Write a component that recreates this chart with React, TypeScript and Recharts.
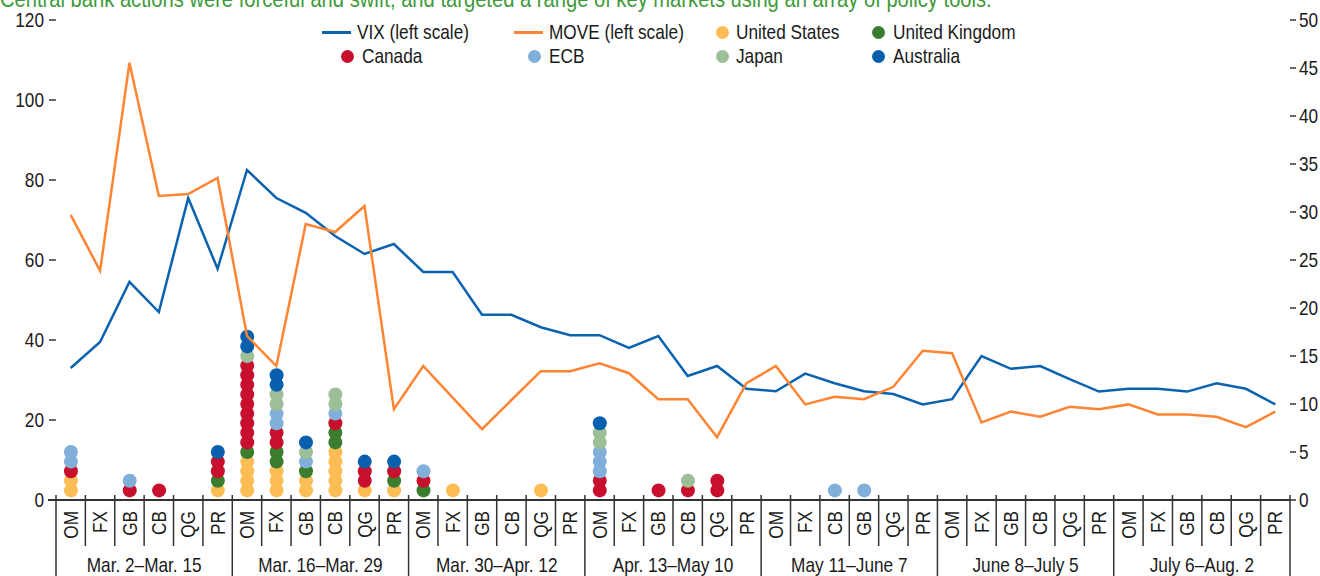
import React from 'react'
import { ComposedChart, Line, Bar, XAxis, YAxis } from 'recharts'

// ---- data ----
const PERIODS = [
  'Mar. 2–Mar. 15', 'Mar. 16–Mar. 29', 'Mar. 30–Apr. 12', 'Apr. 13–May 10',
  'May 11–June 7', 'June 8–July 5', 'July 6–Aug. 2',
]
const TOOLS = ['OM', 'FX', 'GB', 'CB', 'QG', 'PR']
const TOOLS_MAY = ['OM', 'FX', 'CB', 'GB', 'QG', 'PR']

const VIX = [
  33, 39.5, 54.5, 47, 75.5, 57.8,
  82.5, 75.5, 71.8, 66, 61.5, 64,
  57, 57, 46.3, 46.3, 43.2, 41.2,
  41.2, 38, 41, 31, 33.5, 27.8,
  27.2, 31.6, 29.2, 27.2, 26.5, 23.9,
  25.2, 36, 32.8, 33.5, 30.2, 27.1,
  27.8, 27.8, 27.1, 29.2, 27.8, 23.9,
]
const MOVE = [
  71.3, 57.3, 109.3, 76, 76.5, 80.5,
  41, 33.5, 69, 67, 73.5, 22.7,
  33.5, 25.6, 17.7, 25, 32.2, 32.2,
  34.2, 31.7, 25.2, 25.2, 15.7, 29.2,
  33.5, 23.9, 25.8, 25.2, 28.3, 37.3,
  36.7, 19.4, 22.1, 20.8, 23.3, 22.7,
  23.9, 21.4, 21.4, 20.8, 18.2, 22.1,
]

// number of actions per category, by central bank (right scale)
const US = [
  2, 0, 0, 0, 0, 1, 4, 3, 2, 5, 1, 1, 0, 1, 0, 0, 1, 0, 0, 0, 0,
  0, 0, 0, 0, 0, 0, 0, 0, 0, 0, 0, 0, 0, 0, 0, 0, 0, 0, 0, 0, 0,
]
const UK = [
  0, 0, 0, 0, 0, 1, 1, 2, 1, 2, 0, 1, 1, 0, 0, 0, 0, 0, 0, 0, 0,
  0, 0, 0, 0, 0, 0, 0, 0, 0, 0, 0, 0, 0, 0, 0, 0, 0, 0, 0, 0, 0,
]
const CANADA = [
  1, 0, 1, 1, 0, 2, 9, 2, 0, 1, 2, 1, 1, 0, 0, 0, 0, 0, 2, 0, 1,
  1, 2, 0, 0, 0, 0, 0, 0, 0, 0, 0, 0, 0, 0, 0, 0, 0, 0, 0, 0, 0,
]
const ECB = [
  2, 0, 1, 0, 0, 0, 0, 2, 1, 1, 0, 0, 1, 0, 0, 0, 0, 0, 3, 0, 0,
  0, 0, 0, 0, 0, 1, 1, 0, 0, 0, 0, 0, 0, 0, 0, 0, 0, 0, 0, 0, 0,
]
const JAPAN = [
  0, 0, 0, 0, 0, 0, 1, 2, 1, 2, 0, 0, 0, 0, 0, 0, 0, 0, 2, 0, 0,
  1, 0, 0, 0, 0, 0, 0, 0, 0, 0, 0, 0, 0, 0, 0, 0, 0, 0, 0, 0, 0,
]
const AUSTRALIA = [
  0, 0, 0, 0, 0, 1, 2, 2, 1, 0, 1, 1, 0, 0, 0, 0, 0, 0, 1, 0, 0,
  0, 0, 0, 0, 0, 0, 0, 0, 0, 0, 0, 0, 0, 0, 0, 0, 0, 0, 0, 0, 0,
]

const LEFT_TICKS = [0, 20, 40, 60, 80, 100, 120]
const RIGHT_TICKS = [0, 5, 10, 15, 20, 25, 30, 35, 40, 45, 50]

// ---- styling ----
// no narrow font installed, so Liberation Sans is squeezed to look like Arial Narrow
const FONT = "'Liberation Sans', Arial, sans-serif"
const SQUEEZE = 0.82
const FS = 21
const INK = '#1a1a1a'
const AXIS = '#333'
const BANKS = [
  { key: 'us', name: 'United States', color: '#FDBD55', values: US },
  { key: 'uk', name: 'United Kingdom', color: '#3B7D2E', values: UK },
  { key: 'ca', name: 'Canada', color: '#C8102E', values: CANADA },
  { key: 'ecb', name: 'ECB', color: '#80AFDA', values: ECB },
  { key: 'jp', name: 'Japan', color: '#9DBF98', values: JAPAN },
  { key: 'au', name: 'Australia', color: '#075FAE', values: AUSTRALIA },
]

const W = 1320
const H = 576
const LEFT_W = 56
const RIGHT_W = 30
const N = PERIODS.length * TOOLS.length
const BW = (W - LEFT_W - RIGHT_W) / N

const labels = PERIODS.flatMap((p, g) => (g === 4 ? TOOLS_MAY : TOOLS))

const rows = labels.map((label, i) => {
  const r: any = { idx: i, label, vix: VIX[i], move: MOVE[i] }
  BANKS.forEach((b) => { r[b.key] = b.values[i] })
  return r
})

function NarrowText({ x, y, rotate = 0, anchor = 'start', baseline = 'central', children }: any) {
  return (
    <text
      transform={`translate(${x},${y}) rotate(${rotate}) scale(${SQUEEZE},1)`}
      textAnchor={anchor}
      dominantBaseline={baseline}
      fontSize={FS}
      fontFamily={FONT}
      fill={INK}
    >
      {children}
    </text>
  )
}

function DotStack({ x, y, width, height, count, color }: any) {
  if (!count || !height) return null
  const h = Math.abs(height)
  const unit = h / count
  const cx = x + width / 2
  const bottom = y + h
  return (
    <g>
      {Array.from({ length: count }, (_, j) => (
        <circle key={j} cx={cx} cy={bottom - (j + 1) * unit} r={7} fill={color} />
      ))}
    </g>
  )
}

function ToolTick({ x, y, payload }: any) {
  const i = Number(payload.value)
  const x0 = x - BW / 2
  const first = i % 6 === 0
  return (
    <g>
      {i === 0 && (
        <line x1={x0 - 8} x2={x0 + N * BW} y1={y} y2={y} stroke={AXIS} strokeWidth={2} />
      )}
      <line x1={x0} x2={x0} y1={y - 5} y2={first ? H : y + 46} stroke={AXIS} strokeWidth={1.5} />
      {i === N - 1 && (
        <line x1={x0 + BW} x2={x0 + BW} y1={y - 5} y2={H} stroke={AXIS} strokeWidth={1.5} />
      )}
      <NarrowText x={x} y={y + 11} rotate={-90} anchor="end">{labels[i]}</NarrowText>
      {first && (
        <NarrowText x={x0 + 3 * BW} y={y + 72} anchor="middle" baseline="auto">
          {PERIODS[i / 6]}
        </NarrowText>
      )}
    </g>
  )
}

function LeftTick({ x, y, payload }: any) {
  return <NarrowText x={x} y={y} anchor="end">{payload.value}</NarrowText>
}

function RightTick({ x, y, payload }: any) {
  return <NarrowText x={x} y={y} anchor="start">{payload.value}</NarrowText>
}

const legendText: React.CSSProperties = {
  position: 'absolute', fontSize: FS, color: INK, lineHeight: '24px', whiteSpace: 'nowrap',
  transform: `scaleX(${SQUEEZE})`, transformOrigin: '0 50%',
}

function LegendLine({ left, top, color, text, textLeft }: any) {
  return (
    <>
      <div style={{ position: 'absolute', left, top: top - 1.5, width: 29, height: 3, background: color }} />
      <div style={{ ...legendText, left: textLeft, top: top - 12 }}>{text}</div>
    </>
  )
}

function LegendDot({ left, top, color, text, textLeft }: any) {
  return (
    <>
      <div style={{ position: 'absolute', left: left - 6.5, top: top - 6.5, width: 13, height: 13, borderRadius: '50%', background: color }} />
      <div style={{ ...legendText, left: textLeft, top: top - 12 }}>{text}</div>
    </>
  )
}

export default function App() {
  return (
    <div style={{ position: 'absolute', left: 0, top: 0, width: W, height: H, overflow: 'hidden', background: '#fff', fontFamily: FONT }}>
      <div style={{
        ...legendText, left: 0, top: -13, fontSize: 24, lineHeight: '24px',
        color: '#3E9A3A', transform: 'scaleX(0.84)',
      }}>
        Central bank actions were forceful and swift, and targeted a range of key markets using an array of policy tools.
      </div>

      <LegendLine left={322} top={32} color="#0B63B0" text="VIX (left scale)" textLeft={357} />
      <LegendLine left={514} top={32} color="#FF8433" text="MOVE (left scale)" textLeft={549} />
      <LegendDot left={722} top={32} color={BANKS[0].color} text="United States" textLeft={736} />
      <LegendDot left={878} top={32} color={BANKS[1].color} text="United Kingdom" textLeft={893} />
      <LegendDot left={347} top={56} color={BANKS[2].color} text="Canada" textLeft={362} />
      <LegendDot left={534} top={56} color={BANKS[3].color} text="ECB" textLeft={549} />
      <LegendDot left={722} top={56} color={BANKS[4].color} text="Japan" textLeft={736} />
      <LegendDot left={878} top={56} color={BANKS[5].color} text="Australia" textLeft={893} />

      <ComposedChart
        width={W}
        height={H}
        data={rows}
        margin={{ top: 20, right: 0, bottom: 0, left: 0 }}
        style={{ position: 'absolute', left: 0, top: 0 }}
      >
        <XAxis
          dataKey="idx"
          type="category"
          interval={0}
          height={76}
          axisLine={false}
          tickLine={false}
          tickSize={0}
          tickMargin={0}
          tick={<ToolTick />}
        />
        <YAxis
          yAxisId="left"
          domain={[0, 120]}
          ticks={LEFT_TICKS}
          width={LEFT_W}
          axisLine={false}
          tickSize={7}
          tickMargin={5}
          tickLine={{ stroke: AXIS, strokeWidth: 1.5 }}
          tick={<LeftTick />}
        />
        <YAxis
          yAxisId="right"
          orientation="right"
          domain={[0, 50]}
          ticks={RIGHT_TICKS}
          width={RIGHT_W}
          axisLine={false}
          tickSize={6}
          tickMargin={3}
          tickLine={{ stroke: AXIS, strokeWidth: 1.5 }}
          tick={<RightTick />}
        />
        {BANKS.map((b) => (
          <Bar
            key={b.key}
            yAxisId="right"
            dataKey={b.key}
            stackId="banks"
            fill={b.color}
            isAnimationActive={false}
            shape={(p: any) => <DotStack {...p} count={p.payload[b.key]} color={b.color} />}
          />
        ))}
        <Line
          yAxisId="left"
          type="linear"
          dataKey="vix"
          stroke="#0B63B0"
          strokeWidth={2.5}
          dot={false}
          isAnimationActive={false}
        />
        <Line
          yAxisId="left"
          type="linear"
          dataKey="move"
          stroke="#FF8433"
          strokeWidth={2.5}
          dot={false}
          isAnimationActive={false}
        />
      </ComposedChart>
    </div>
  )
}
